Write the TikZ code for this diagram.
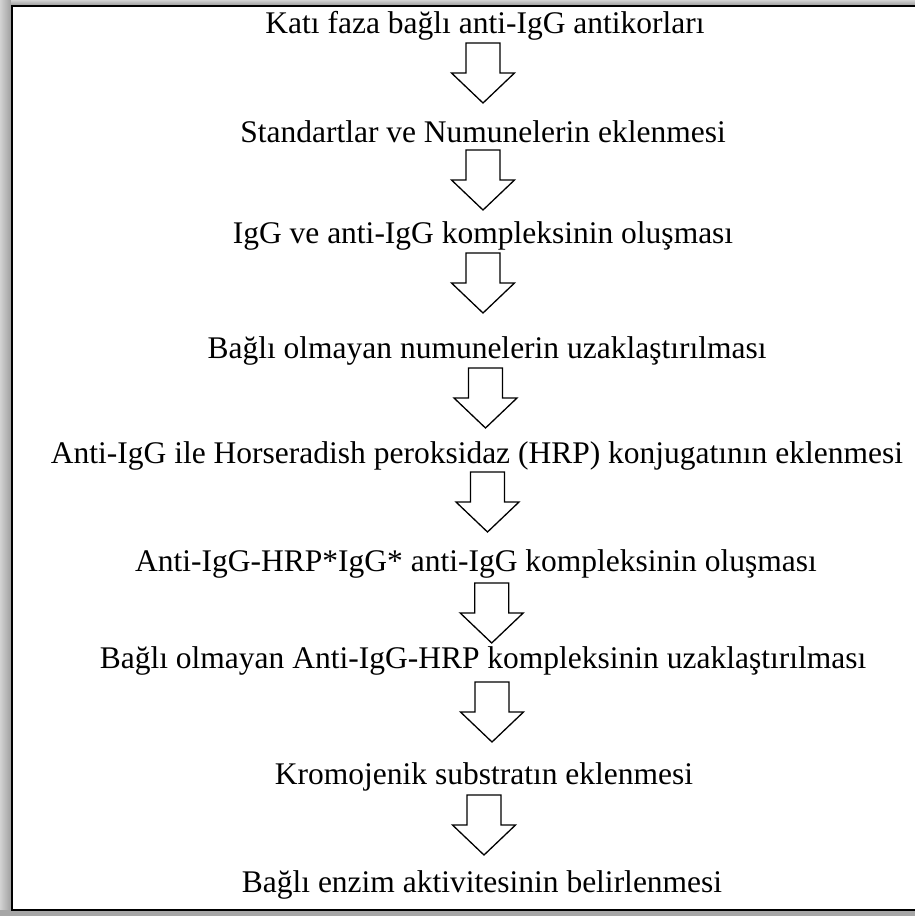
\documentclass[tikz,border=0pt]{standalone}
\usepackage{fontspec}
\setmainfont{Liberation Serif}
\begin{document}
\begin{tikzpicture}[x=1pt,y=-1pt,
  txt/.style={font=\fontsize{31.5}{36}\selectfont, anchor=base, inner sep=0pt, text=black},
  blockarrow/.pic={\draw[line width=1.3pt, line join=miter, fill=white]
      (-17,0) -- (17,0) -- (17,30) -- (31.5,30) -- (0,60) -- (-31.5,30) -- (-17,30) -- cycle;}]
\useasboundingbox (0,0) rectangle (915,916);
\fill[gray!55] (0,0) rectangle (915,916);
\shade[left color=gray!35, right color=gray!75] (0,0) rectangle (11,916);
\shade[top color=gray!35, bottom color=gray!75] (11,0) rectangle (915,5);
\fill[gray!70] (0,910) rectangle (915,916);
\fill[white] (12,6) rectangle (915,910);
\draw[line width=2pt] (916,6) -- (12,6) -- (12,910) -- (916,910);

\node[txt] (t1) at (485,33) {Katı faza bağlı anti-IgG antikorları};
\node[txt] (t2) at (483,142) {Standartlar ve Numunelerin eklenmesi};
\node[txt] (t3) at (483,243) {IgG ve anti-IgG kompleksinin oluşması};
\node[txt] (t4) at (487,358) {Bağlı olmayan numunelerin uzaklaştırılması};
\node[txt] (t5) at (477,463) {Anti-IgG ile Horseradish peroksidaz (HRP) konjugatının eklenmesi};
\node[txt] (t6) at (476,571) {Anti-IgG-HRP*IgG* anti-IgG kompleksinin oluşması};
\node[txt] (t7) at (483,668) {Bağlı olmayan Anti-IgG-HRP kompleksinin uzaklaştırılması};
\node[txt] (t8) at (484,784) {Kromojenik substratın eklenmesi};
\node[txt] (t9) at (482,892) {Bağlı enzim aktivitesinin belirlenmesi};

\pic at (483,43) {blockarrow};
\pic at (483,150) {blockarrow};
\pic at (483,253) {blockarrow};
\pic at (485.5,368) {blockarrow};
\pic at (487.5,472) {blockarrow};
\pic at (491.7,583) {blockarrow};
\pic at (492,682) {blockarrow};
\pic at (484,795) {blockarrow};
\end{tikzpicture}
\end{document}
